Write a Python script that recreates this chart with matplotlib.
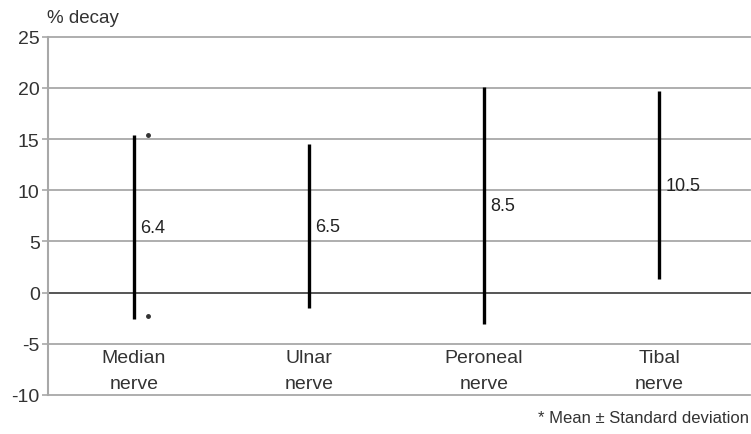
import matplotlib

matplotlib.use("Agg")
import matplotlib.pyplot as plt
from matplotlib import font_manager

nerves = ["Median\nnerve", "Ulnar\nnerve", "Peroneal\nnerve", "Tibal\nnerve"]
means = [6.4, 6.5, 8.5, 10.5]
sds = [9.0, 8.0, 11.6, 9.2]
y_ticks = [25, 20, 15, 10, 5, 0, -5, -10]

names = {f.name for f in font_manager.fontManager.ttflist}
face = "Liberation Sans Narrow" if "Liberation Sans Narrow" in names else "Liberation Sans"
plt.rcParams["font.family"] = [face, "DejaVu Sans"]

fig = plt.figure(figsize=(7.51, 4.35), dpi=100)
ax = fig.add_axes([0.064, 0.090, 0.935, 0.823])
ax.set_xlim(-0.49, 3.52)
ax.set_ylim(-10, 25)

# horizontal reference lines, zero line darker
for v in y_ticks:
    ax.axhline(v, color="#555555" if v == 0 else "#a8a8a8", lw=1.4 if v == 0 else 1.3,
               zorder=1, clip_on=False)

for i, (m, s) in enumerate(zip(means, sds)):
    ax.vlines(i, m - s, m + s, color="black", lw=2.4, zorder=3)
    ax.text(i + 0.035, m, f"{m}", ha="left", va="center", fontsize=13, color="#222222")
    ax.text(i, -7.6, nerves[i], ha="center", va="center", fontsize=14,
            color="#333333", linespacing=1.65)

# asterisk markers beside the first bar
ax.plot([0.08, 0.08], [means[0] + sds[0], means[0] - sds[0] + 0.3], "o",
        ms=2.5, color="#333333", zorder=3)

ax.set_yticks(y_ticks)
ax.set_yticklabels([str(v) for v in y_ticks], fontsize=14, color="#333333")
ax.tick_params(axis="y", length=4, width=1.2, color="#a8a8a8", pad=2)
ax.set_xticks([])
for side in ["top", "right", "bottom"]:
    ax.spines[side].set_visible(False)
ax.spines["left"].set_color("#a8a8a8")
ax.spines["left"].set_linewidth(1.5)

fig.text(0.062, 0.958, "% decay", ha="left", va="center", fontsize=13.5, color="#333333")
fig.text(0.998, 0.038, "* Mean \u00b1 Standard deviation", ha="right", va="center",
         fontsize=12, color="#333333")

fig.savefig("out.png", dpi=100)
